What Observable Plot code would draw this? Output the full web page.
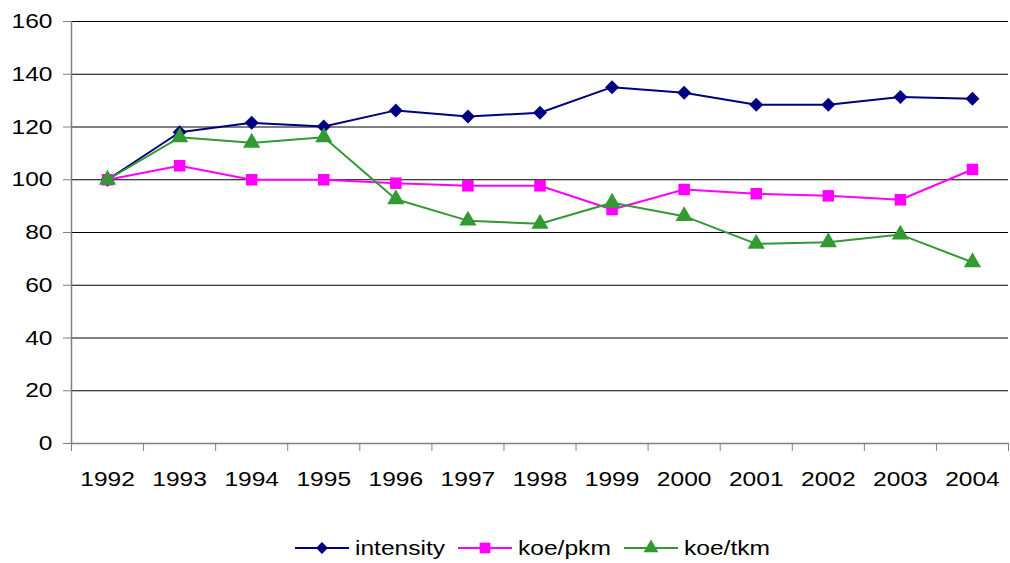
<!DOCTYPE html>
<html>
<head>
<meta charset="utf-8">
<script src="https://cdn.jsdelivr.net/npm/d3@7"></script>
<script src="https://cdn.jsdelivr.net/npm/@observablehq/plot@0.6"></script>
<style>
  html, body { margin: 0; padding: 0; background: #fff; }
  body { width: 1010px; height: 563px; position: relative; overflow: hidden;
         font-family: "Liberation Sans", Arial, sans-serif; }
  #legend { position: absolute; left: 0; top: 536px; width: 1010px; height: 24px;
            font-size: 21px; color: #000; }
  #legend svg, #legend span { position: absolute; top: 0; }
  #legend span { line-height: 24px; transform: scaleX(1.17); transform-origin: left center; white-space: nowrap; }
</style>
</head>
<body>
<div id="chart"></div>
<div id="legend"></div>
<script>
// Index values (1992 = 100)
const years = [1992, 1993, 1994, 1995, 1996, 1997, 1998, 1999, 2000, 2001, 2002, 2003, 2004];
const intensity = [100, 118.0, 121.6, 120.2, 126.3, 124.0, 125.4, 135.1, 133.0, 128.4, 128.4, 131.4, 130.7];
const koePkm    = [100, 105.3, 100.0, 100.0, 98.7, 97.7, 97.7, 88.7, 96.3, 94.7, 93.9, 92.4, 103.9];
const koeTkm    = [100, 116.1, 114.0, 116.1, 92.6, 84.5, 83.3, 91.3, 86.2, 75.7, 76.3, 79.2, 68.7];
const seriesNames = ["intensity", "koe/pkm", "koe/tkm"];
const yTicks = [0, 20, 40, 60, 80, 100, 120, 140, 160];

// Drawing styles for each series
const styles = {
  "intensity": { color: "#000080", symbol: "diamond2", r: 6.3, legendX: 295 },
  "koe/pkm":   { color: "#FF00FF", symbol: "square",   r: 6.5, legendX: 458 },
  "koe/tkm":   { color: "#339933", symbol: "triangle", r: 6.4, legendX: 624 }
};

const valuesBySeries = { "intensity": intensity, "koe/pkm": koePkm, "koe/tkm": koeTkm };
const rows = seriesNames.flatMap(name =>
  years.map((year, i) => ({ series: name, year, value: valuesBySeries[name][i] })));

const seriesMarks = seriesNames.flatMap(name => {
  const data = rows.filter(d => d.series === name);
  const s = styles[name];
  return [
    Plot.line(data, { x: "year", y: "value", stroke: s.color, strokeWidth: 2 }),
    Plot.dot(data, { x: "year", y: "value", symbol: () => s.symbol, fill: s.color, r: s.r, stroke: "none" })
  ];
});

const chart = Plot.plot({
  width: 1010,
  height: 510,
  marginTop: 21,
  marginBottom: 67,
  marginLeft: 71,
  marginRight: 2,
  style: { fontFamily: "'Liberation Sans', Arial, sans-serif", fontSize: "21px", color: "#000", background: "#fff" },
  x: { type: "linear", domain: [years[0] - 0.5, years[years.length - 1] + 0.5] },
  y: { domain: [0, 160] },
  symbol: { type: "identity" },
  marks: [
    Plot.gridY(yTicks, { stroke: "#000", strokeOpacity: 1, strokeWidth: 1 }),
    Plot.axisY(yTicks, { tickSize: 8, tickPadding: 11, fontSize: 21, stroke: "#808080", label: null }),
    Plot.axisX(years.concat([years[years.length - 1] + 1]).map(y => y - 0.5),
               { tickSize: 8, tickFormat: () => "", stroke: "#808080", label: null }),
    Plot.axisX(years, { tickSize: 0, tickPadding: 28, fontSize: 21, tickFormat: d => String(d), label: null }),
    Plot.ruleX([years[0] - 0.5], { stroke: "#808080", strokeWidth: 1.5 }),
    Plot.ruleY([0], { stroke: "#808080", strokeWidth: 1.5 }),
    ...seriesMarks
  ]
});
document.getElementById("chart").appendChild(chart);

// Widen the tick lettering about each label's anchor point
d3.select(chart).selectAll("g[aria-label$='tick label'] text").each(function () {
  const t = this.getAttribute("transform") || "";
  this.setAttribute("transform", t + " scale(1.17,1)");
});

// Legend below the chart
const legend = d3.select("#legend");
const symbolPath = {
  "diamond2": d3.symbol(d3.symbolDiamond2, 90)(),
  "square": d3.symbol(d3.symbolSquare, 115)(),
  "triangle": d3.symbol(d3.symbolTriangle, 95)()
};
seriesNames.forEach(name => {
  const s = styles[name];
  const svg = legend.append("svg").attr("width", 54).attr("height", 24).style("left", s.legendX + "px");
  svg.append("line").attr("x1", 0).attr("x2", 54).attr("y1", 12).attr("y2", 12)
    .attr("stroke", s.color).attr("stroke-width", 2);
  svg.append("path").attr("d", symbolPath[s.symbol]).attr("transform", "translate(27,12)")
    .attr("fill", s.color);
  legend.append("span").text(name).style("left", (s.legendX + 60) + "px");
});
</script>
</body>
</html>
